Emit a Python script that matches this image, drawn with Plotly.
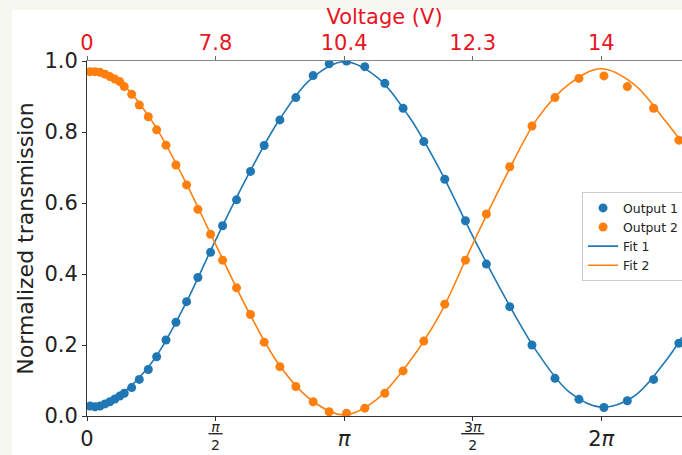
import plotly.graph_objects as go

# Phase (rad) of each measured point
phase = [0.037, 0.098, 0.159, 0.22, 0.28, 0.34, 0.40, 0.455, 0.546, 0.639, 0.749, 0.851,
         0.965, 1.087, 1.217, 1.355, 1.510, 1.657, 1.827, 1.998, 2.165, 2.357, 2.552, 2.763,
         2.959, 3.171, 3.394, 3.639, 3.862, 4.115, 4.371, 4.624, 4.880, 5.165, 5.437, 5.718,
         6.011, 6.316, 6.602, 6.923, 7.232]

output1 = [0.028, 0.026, 0.028, 0.034, 0.040, 0.048, 0.056, 0.064, 0.080, 0.103, 0.131, 0.167,
           0.214, 0.264, 0.322, 0.390, 0.461, 0.536, 0.609, 0.689, 0.762, 0.834, 0.897, 0.959,
           0.992, 1.000, 0.984, 0.937, 0.867, 0.773, 0.667, 0.550, 0.428, 0.308, 0.200, 0.106,
           0.047, 0.024, 0.043, 0.103, 0.205]

output2 = [0.970, 0.970, 0.968, 0.963, 0.956, 0.949, 0.942, 0.928, 0.906, 0.876, 0.843, 0.806,
           0.763, 0.707, 0.651, 0.582, 0.512, 0.439, 0.361, 0.286, 0.208, 0.139, 0.083, 0.040,
           0.012, 0.008, 0.022, 0.064, 0.127, 0.211, 0.315, 0.439, 0.569, 0.702, 0.817, 0.897,
           0.951, 0.958, 0.928, 0.867, 0.777]

# Fitted curves sampled along the phase axis
fit_phase = [0.0, 0.39, 0.79, 1.18, 1.57, 1.96, 2.36, 2.75, 3.14, 3.53, 3.93, 4.32, 4.71,
             5.11, 5.50, 5.89, 6.28, 6.68, 7.07, 7.27]
fit1 = [0.025, 0.058, 0.150, 0.305, 0.495, 0.675, 0.838, 0.952, 0.998, 0.957, 0.845, 0.690,
        0.508, 0.333, 0.180, 0.068, 0.025, 0.055, 0.155, 0.222]
fit2 = [0.975, 0.942, 0.832, 0.670, 0.484, 0.300, 0.140, 0.043, 0.003, 0.045, 0.150, 0.290,
        0.483, 0.672, 0.837, 0.935, 0.978, 0.935, 0.830, 0.770]

# Axis ticks
phase_ticks = [0.0, 1.5708, 3.1416, 4.7124, 6.2832]
phase_main_labels = ["0", "", "<i>π</i>", "", "2<i>π</i>"]
frac_ticks = [1.5708, 4.7124]
frac_labels = ["<u>\u2009<i>π</i>\u2009</u><br>2", "<u>\u20093<i>π</i>\u2009</u><br>2"]
voltage_labels = ["0", "7.8", "10.4", "12.3", "14"]

X_RANGE = [0, 7.27]
BLUE = "#1f77b4"
ORANGE = "#ff7f0e"
RED = "#e8141e"
FONT = "DejaVu Sans"

fig = go.Figure()
fig.add_trace(go.Scatter(x=phase, y=output1, mode="markers", name="Output 1",
                         marker=dict(color=BLUE, size=9)))
fig.add_trace(go.Scatter(x=phase, y=output2, mode="markers", name="Output 2",
                         marker=dict(color=ORANGE, size=9)))
fig.add_trace(go.Scatter(x=fit_phase, y=fit1, mode="lines", name="Fit 1",
                         line=dict(color=BLUE, width=1.6, shape="spline")))
fig.add_trace(go.Scatter(x=fit_phase, y=fit2, mode="lines", name="Fit 2",
                         line=dict(color=ORANGE, width=1.6, shape="spline")))
# invisible traces to activate the extra x axes
fig.add_trace(go.Scatter(x=[0], y=[0], xaxis="x2", mode="markers",
                         marker=dict(opacity=0), showlegend=False, hoverinfo="skip"))
fig.add_trace(go.Scatter(x=[0], y=[0], xaxis="x3", mode="markers",
                         marker=dict(opacity=0), showlegend=False, hoverinfo="skip"))

fig.update_layout(
    width=682, height=455,
    margin=dict(l=87, r=0, t=61, b=39, autoexpand=False),
    paper_bgcolor="#f7f7f2",
    plot_bgcolor="white",
    font=dict(family=FONT, color="#222"),
    shapes=[dict(type="rect", xref="paper", yref="paper", layer="below",
                 x0=(12 - 87) / 595, x1=1.0, y0=-0.2, y1=(416 - 10) / 355,
                 fillcolor="white", line=dict(width=0))],
    xaxis=dict(range=X_RANGE, tickvals=phase_ticks, ticktext=phase_main_labels,
               ticks="outside", ticklen=4, tickcolor="#333", showline=True,
               linecolor="#333", linewidth=1, showgrid=False, zeroline=False,
               tickfont=dict(size=21, family=FONT, color="#222")),
    xaxis3=dict(range=X_RANGE, overlaying="x", side="bottom", anchor="y",
                tickvals=frac_ticks, ticktext=frac_labels, ticks="",
                ticklabelstandoff=1,
                showline=False, showgrid=False, zeroline=False,
                tickfont=dict(size=14, family=FONT, color="#222")),
    xaxis2=dict(range=X_RANGE, overlaying="x", side="top", anchor="y",
                tickvals=phase_ticks, ticktext=voltage_labels,
                ticks="outside", ticklen=4, tickcolor="#666", showline=True,
                linecolor="#888", linewidth=1, showgrid=False, zeroline=False,
                ticklabelstandoff=-2,
                tickfont=dict(size=21, family=FONT, color=RED),
                title=dict(text="Voltage (V)", standoff=0,
                           font=dict(size=21, family=FONT, color=RED))),
    yaxis=dict(range=[0, 1], dtick=0.2, tickformat=".1f", ticks="outside", ticklen=4,
               tickcolor="#333", showline=True, linecolor="#333", linewidth=1,
               showgrid=False, zeroline=False,
               tickfont=dict(size=21, family=FONT, color="#222"),
               title=dict(text="Normalized transmission", standoff=4,
                          font=dict(size=22, family=FONT, color="#222"))),
    legend=dict(x=0.832, y=0.63, xanchor="left", yanchor="top",
                bgcolor="white", bordercolor="#cccccc", borderwidth=1,
                font=dict(size=12.4, family=FONT, color="#222"),
                tracegroupgap=0, itemwidth=30),
    showlegend=True,
)

fig.write_html("out.html")
